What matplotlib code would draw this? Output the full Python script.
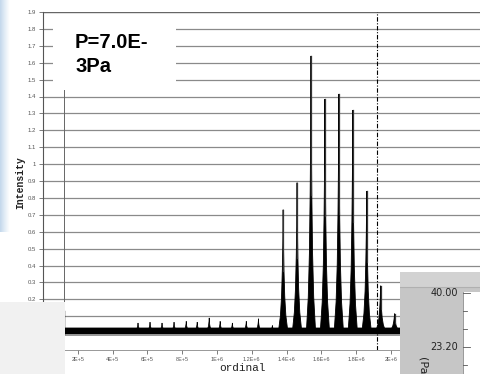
import matplotlib.pyplot as plt
import numpy as np
from matplotlib.patches import Rectangle

# tall peaks of the trace
peak_x = [1.38e6, 1.46e6, 1.54e6, 1.62e6, 1.70e6, 1.78e6, 1.86e6, 1.94e6, 2.02e6]
peak_h = [0.73, 0.89, 1.64, 1.385, 1.415, 1.32, 0.84, 0.28, 0.115]

# small peaks on the baseline
small_x = [5.46e5, 6.15e5, 6.84e5, 7.53e5, 8.23e5, 8.86e5, 9.55e5, 1.018e6,
           1.088e6, 1.168e6, 1.238e6, 1.318e6]
small_h = [0.06, 0.065, 0.06, 0.065, 0.07, 0.065, 0.09, 0.07, 0.06, 0.07, 0.085, 0.045]

# start of the data, baseline band, marker line
start_x = 1.19e5
start_h = 1.44
base_lo, base_hi = -0.008, 0.028
marker_x = 1.918e6

x_ticks = [2e5, 4e5, 6e5, 8e5, 1e6, 1.2e6, 1.4e6, 1.6e6, 1.8e6, 2e6]
x_labels = ["2E+5", "4E+5", "6E+5", "8E+5", "1E+6", "1.2E+6", "1.4E+6", "1.6E+6",
            "1.8E+6", "2E+6"]
y_ticks = [round(0.1 * i, 1) for i in range(0, 20)]
# labels for 0 and 0.1 sit under the grey panel
y_labels = ["", ""] + ["%g" % v for v in y_ticks[2:]]

# normalised peak outline (shape only)
prof_dx = [-1, -0.6, -0.35, -0.18, -0.08, -0.03, 0, 0.03, 0.08, 0.18, 0.35, 0.6, 1]
prof_dy = [0, 0.12, 0.28, 0.5, 0.7, 0.85, 1, 0.85, 0.7, 0.5, 0.28, 0.12, 0]

W, H = 481, 374
fig = plt.figure(figsize=(W / 100, H / 100), dpi=100)
ax = fig.add_axes([43 / W, 24 / H, (W - 43) / W, 338 / H])
ax.set_xlim(0, 2.517e6)
ax.set_ylim(-0.1, 1.9)

ax.set_yticks(y_ticks)
ax.set_yticklabels(y_labels, fontsize=4.3, color="#555555", family="Liberation Sans")
ax.set_xticks(x_ticks)
ax.set_xticklabels(x_labels, fontsize=4, color="#555555", family="Liberation Sans")
ax.tick_params(length=3, width=0.6, color="#666666", pad=2)
ax.grid(axis="y", color="#8a8a8a", lw=0.9)
ax.set_axisbelow(True)
for s in ["top", "right"]:
    ax.spines[s].set_visible(False)
ax.spines["left"].set_color("#555555")
ax.spines["bottom"].set_color("#888888")
ax.spines["left"].set_linewidth(0.8)
ax.spines["bottom"].set_linewidth(0.6)
ax.axhline(1.9, color="#666666", lw=0.9)

# baseline
ax.fill_between([start_x, 2.6e6], base_lo, base_hi, color="black", lw=0, zorder=3)
ax.fill_between([start_x, 2.6e6], base_lo - 0.008, base_hi + 0.006, color="#555555",
                lw=0, zorder=2.9, alpha=0.6)
ax.plot([start_x, start_x], [base_lo, start_h], color="#666666", lw=0.7, zorder=3)
ax.plot([start_x, start_x], [base_lo, 0.13], color="black", lw=1.0, zorder=3)

for cx, h in zip(small_x, small_h):
    xs = [cx + d * 15000 for d in prof_dx]
    ys = [base_hi - 0.01 + d * (h - base_hi + 0.01) for d in prof_dy]
    ax.fill(xs, ys, color="black", lw=0.5, zorder=3)

for cx, h in zip(peak_x, peak_h):
    xs = [cx + d * 26000 for d in prof_dx]
    ys = [base_hi - 0.01 + d * (h - base_hi + 0.01) for d in prof_dy]
    ax.fill(xs, ys, color="black", lw=0.6, zorder=3)
    ax.plot([cx, cx], [0.5 * h, h], color="#333333", lw=0.9, zorder=3)

ax.axvline(marker_x, color="black", lw=0.8, ls=(0, (4, 1.5, 1, 1.5)), zorder=4)

# label box
ax.add_patch(Rectangle((0.023, 0.76), 0.28, 0.23, transform=ax.transAxes,
                       facecolor="white", edgecolor="none", zorder=2))
ax.text(75 / W, 1 - 33 / H, "P=7.0E-\n3Pa", transform=fig.transFigure,
        fontsize=14.5, fontweight="bold", family="Liberation Sans",
        va="top", ha="left", linespacing=1.3, zorder=5)

fig.text(20 / W, 1 - 183 / H, "Intensity", rotation=90, ha="center", va="center",
         fontsize=7, family="Liberation Mono", fontweight="bold", color="#222222")
fig.text(242 / W, 1 - 368 / H, "ordinal", ha="center", va="center",
         fontsize=8, family="Liberation Mono", color="#222222")

# left blue strip
strip = fig.add_axes([0, 1 - 232 / H, 10 / W, 232 / H])
grad = np.linspace(0, 1, 20)[None, :]
strip.imshow(grad, aspect="auto", cmap=plt.matplotlib.colors.LinearSegmentedColormap.from_list(
    "s", ["#c4d8ec", "#e4eef7", "#ffffff"]), extent=[0, 1, 0, 1])
strip.axis("off")

# grey panel bottom-left
fig.add_artist(Rectangle((0, 0), 65 / W, (H - 302) / H, transform=fig.transFigure,
                         facecolor="#f1f1f1", edgecolor="none", zorder=6))

# overlapping window bottom-right
win = fig.add_axes([400 / W, 0, 81 / W, 102 / H], zorder=7)
win.set_xlim(400, 481)
win.set_ylim(374, 272)
win.axis("off")
win.add_patch(Rectangle((400, 272), 81, 102, facecolor="#c6c6c6", edgecolor="none"))
win.add_patch(Rectangle((400, 272), 81, 15, facecolor="#d2d2d2", edgecolor="none"))
win.plot([400, 481], [287, 287], color="#b0b0b0", lw=0.8)
win.add_patch(Rectangle((463, 292), 18, 82, facecolor="white", edgecolor="none"))
win.plot([463, 463], [292, 374], color="#888888", lw=0.6)
for ty, ln in [(293, 7), (311, 4), (329, 4), (347, 7), (365, 4)]:
    win.plot([463, 463 + ln], [ty, ty], color="#555555", lw=0.6)
win.text(458, 293, "40.00", ha="right", va="center", fontsize=7, color="#222222",
         family="DejaVu Sans")
win.text(458, 347, "23.20", ha="right", va="center", fontsize=7, color="#222222",
         family="DejaVu Sans")
win.text(423, 357, "(Pa)", rotation=-90, ha="center", va="top", fontsize=8,
         color="#222222", family="DejaVu Sans")

fig.savefig("out.png", dpi=100)
